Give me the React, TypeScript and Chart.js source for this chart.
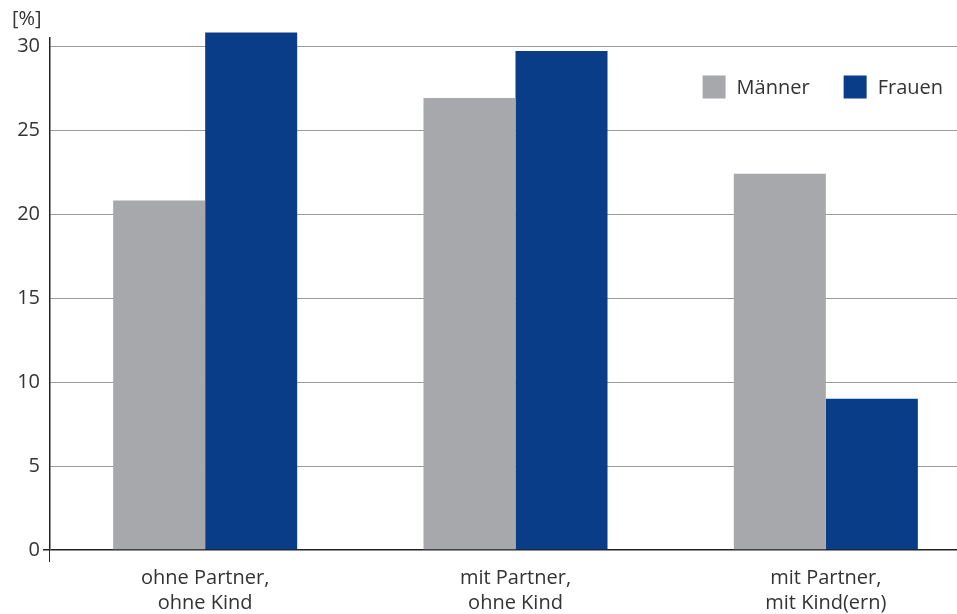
import React, { useEffect, useRef } from 'react';
import { Chart, registerables } from 'chart.js';

Chart.register(...registerables);

const categories: string[][] = [
  ['ohne Partner,', 'ohne Kind'],
  ['mit Partner,', 'ohne Kind'],
  ['mit Partner,', 'mit Kind(ern)'],
];
const seriesLabels = ['Männer', 'Frauen'];
const maenner = [20.8, 26.9, 22.4];
const frauen = [30.8, 29.7, 9.0];
const yStep = 5;
const yMin = 0;
const yMax = 30.5;
const unitLabel = '[%]';

const VIEW_W = 957;
const VIEW_H = 614;
const CANVAS_W = 981;

const GREY = '#a7a8ab';
const BLUE = '#0a3d87';
const TEXT = '#333333';
const AXIS = '#222222';
const GRID = '#9a9a9a';
const FONT = '"Open Sans", "Noto Sans", sans-serif';

const overlayPlugin = {
  id: 'overlay',
  afterDraw(chart: any) {
    const ctx = chart.ctx as CanvasRenderingContext2D;
    ctx.save();
    ctx.font = `20px ${FONT}`;
    ctx.fillStyle = TEXT;
    ctx.textBaseline = 'middle';
    ctx.textAlign = 'left';
    ctx.fillText(unitLabel, 12, 19);

    // legend, right-aligned within the visible area
    const box = 23;
    const gapBoxText = 11;
    const gapItems = 34;
    const right = VIEW_W - 14;
    const yc = 87;
    const items = chart.data.datasets.map((d: any) => ({ label: d.label, color: d.backgroundColor }));
    let x = right;
    const positions: { x: number; label: string; color: string }[] = [];
    for (let i = items.length - 1; i >= 0; i--) {
      const w = ctx.measureText(items[i].label).width;
      const start = x - w - gapBoxText - box;
      positions.unshift({ x: start, label: items[i].label, color: items[i].color });
      x = start - gapItems;
    }
    for (const p of positions) {
      ctx.fillStyle = p.color;
      ctx.fillRect(p.x, yc - box / 2, box, box);
      ctx.fillStyle = TEXT;
      ctx.fillText(p.label, p.x + box + gapBoxText, yc + 1);
    }
    ctx.restore();
  },
};

export default function App() {
  const ref = useRef<HTMLCanvasElement>(null);
  useEffect(() => {
    if (!ref.current) return;
    const chart = new Chart(ref.current, {
      type: 'bar',
      data: {
        labels: categories,
        datasets: [
          { label: seriesLabels[0], data: maenner, backgroundColor: GREY, clip: false as any },
          { label: seriesLabels[1], data: frauen, backgroundColor: BLUE, clip: false as any },
        ],
      },
      options: {
        responsive: false,
        animation: false,
        layout: { padding: { top: 37.6, right: 0, bottom: 0, left: 0 } },
        datasets: { bar: { categoryPercentage: 0.593, barPercentage: 1 } },
        plugins: { legend: { display: false }, tooltip: { enabled: false } },
        scales: {
          x: {
            grid: {
              drawOnChartArea: false,
              drawTicks: true,
              tickLength: 12,
              color: (c: any) => (c.index === 0 ? AXIS : 'transparent'),
              tickColor: (c: any) => (c.index === 0 ? AXIS : 'transparent'),
            },
            border: { display: false },
            ticks: { color: TEXT, font: { family: FONT, size: 20, lineHeight: 1.25 }, padding: 4, maxRotation: 0 },
            afterFit: (s: any) => { s.height = 64; },
          },
          y: {
            min: yMin,
            max: yMax,
            ticks: {
              stepSize: yStep,
              includeBounds: false,
              color: TEXT,
              font: { family: FONT, size: 20 },
              padding: 3,
            },
            grid: {
              color: (c: any) => (c.tick && c.tick.value === 0 ? AXIS : GRID),
              lineWidth: (c: any) => (c.tick && c.tick.value === 0 ? 1.5 : 1),
              tickLength: 7,
              tickColor: (c: any) => (c.tick && c.tick.value === 0 ? AXIS : 'transparent'),
            },
            border: { display: true, color: AXIS, width: 1.5 },
            afterFit: (s: any) => { s.width = 50; },
          },
        },
      },
      plugins: [overlayPlugin],
    });
    return () => chart.destroy();
  }, []);
  return (
    <div style={{ position: 'fixed', left: 0, top: 0, width: VIEW_W, height: VIEW_H, overflow: 'hidden', background: '#fff' }}>
      <canvas ref={ref} width={CANVAS_W} height={VIEW_H} style={{ display: 'block' }} />
    </div>
  );
}
